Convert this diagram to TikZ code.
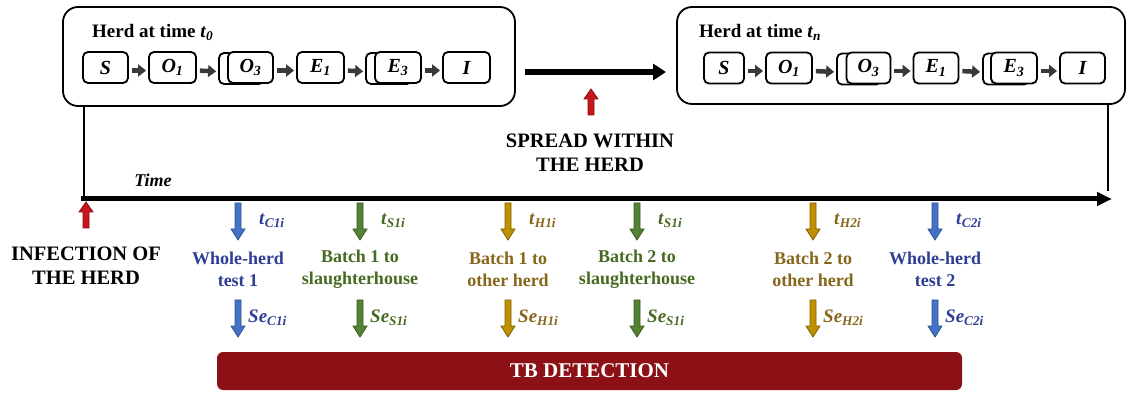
\documentclass[tikz,border=0pt]{standalone}
\usepackage{fontspec}
\setmainfont{Liberation Serif}
\usetikzlibrary{arrows.meta}
\definecolor{Ablue}{HTML}{4472C4}\definecolor{Dblue}{HTML}{2F5597}\definecolor{Tblue}{HTML}{2F3E94}
\definecolor{Agreen}{HTML}{548235}\definecolor{Dgreen}{HTML}{3A5A22}\definecolor{Tgreen}{HTML}{476A22}
\definecolor{Agold}{HTML}{BF9000}\definecolor{Dgold}{HTML}{806000}\definecolor{Tgold}{HTML}{86661A}
\definecolor{redA}{HTML}{C8161D}\definecolor{redD}{HTML}{8A0E12}
\definecolor{tbred}{HTML}{8C1116}
\definecolor{grayA}{HTML}{3A3A3A}
\newcommand{\tsub}[1]{\textbf{\textit{t}\textsubscript{\textit{#1}}}}
\newcommand{\sesub}[1]{\textbf{\textit{Se}\textsubscript{\textit{#1}}}}
\newcommand{\dnarrow}[4]{\filldraw[#1,line width=0.8pt] ({#2-3},#3) -- ({#2+3},#3) -- ({#2+3},{#4-11}) -- ({#2+7},{#4-11}) -- (#2,#4) -- ({#2-7},{#4-11}) -- ({#2-3},{#4-11}) -- cycle;}
\newcommand{\uparrowblk}[4]{\filldraw[#1,line width=0.8pt] ({#2-3},#3) -- ({#2+3},#3) -- ({#2+3},{#4+10}) -- ({#2+7},{#4+10}) -- (#2,#4) -- ({#2-7},{#4+10}) -- ({#2-3},{#4+10}) -- cycle;}
\tikzset{
  herdbox/.style={draw, line width=1.8pt, rounded corners=15pt},
  state/.style={draw, line width=1.8pt, rounded corners=5pt, fill=white, minimum height=31pt, inner sep=0pt, font=\fontsize{20}{22}\selectfont\bfseries\itshape},
  statearrow/.style={draw=grayA, line width=4.5pt, -{Triangle[width=12pt,length=8pt]}, shorten <=3pt, shorten >=2pt},
  evtext/.style={align=center, font=\fontsize{18}{22}\selectfont\bfseries},
  caps/.style={align=center, font=\fontsize{20.5}{24}\selectfont\bfseries},
  lab/.style={anchor=west, inner sep=0pt, font=\fontsize{19}{21}\selectfont},
}
\begin{document}
\begin{tikzpicture}[x=1pt,y=-1pt]
\useasboundingbox (0,0) rectangle (1127,395);
% herd boxes
\draw[herdbox] (63,7) rectangle (515,106);
\node[anchor=base west, inner sep=0pt, font=\fontsize{19}{21}\selectfont\bfseries] (h0) at (92,38) {Herd at time \textit{t}\textsubscript{\textit{0}}};
\draw[herdbox] (677,7) rectangle (1125,104);
\node[anchor=base west, inner sep=0pt, font=\fontsize{19}{21}\selectfont\bfseries] (hn) at (699,38) {Herd at time \textit{t}\textsubscript{\textit{n}}};
% left states
\node[state, minimum width=45pt] (LS) at (105.5,67.5) {S};
\node[state, minimum width=47pt] (LO1) at (172.5,67.5) {O\textsubscript{1}};
\node[state, minimum width=45pt] (LO3b) at (241.5,68.5) {};
\node[state, minimum width=45pt] (LO3) at (250.5,67.5) {O\textsubscript{3}};
\node[state, minimum width=47pt] (LE1) at (320.5,67.5) {E\textsubscript{1}};
\node[state, minimum width=46pt] (LE3b) at (389,68.5) {};
\node[state, minimum width=46pt] (LE3) at (398,67.5) {E\textsubscript{3}};
\node[state, minimum width=47pt] (LI) at (466.5,67.5) {I};
\draw[statearrow] ([yshift=-3pt]LS.east) -- ([yshift=-3pt]LO1.west);
\draw[statearrow] ([yshift=-3pt]LO1.east) -- ([yshift=-3pt]LO3b.west);
\draw[statearrow] ([yshift=-3pt]LO3.east) -- ([yshift=-3pt]LE1.west);
\draw[statearrow] ([yshift=-3pt]LE1.east) -- ([yshift=-3pt]LE3b.west);
\draw[statearrow] ([yshift=-3pt]LE3.east) -- ([yshift=-3pt]LI.west);
% right states
\node[state, minimum width=40pt] (RS) at (724,68) {S};
\node[state, minimum width=46pt] (RO1) at (789,68) {O\textsubscript{1}};
\node[state, minimum width=44pt] (RO3b) at (859,69) {};
\node[state, minimum width=44pt] (RO3) at (868.5,68) {O\textsubscript{3}};
\node[state, minimum width=45pt] (RE1) at (936,68) {E\textsubscript{1}};
\node[state, minimum width=46pt] (RE3b) at (1006,69) {};
\node[state, minimum width=46pt] (RE3) at (1014,68) {E\textsubscript{3}};
\node[state, minimum width=45pt] (RI) at (1082.5,68) {I};
\draw[statearrow] ([yshift=-3pt]RS.east) -- ([yshift=-3pt]RO1.west);
\draw[statearrow] ([yshift=-3pt]RO1.east) -- ([yshift=-3pt]RO3b.west);
\draw[statearrow] ([yshift=-3pt]RO3.east) -- ([yshift=-3pt]RE1.west);
\draw[statearrow] ([yshift=-3pt]RE1.east) -- ([yshift=-3pt]RE3b.west);
\draw[statearrow] ([yshift=-3pt]RE3.east) -- ([yshift=-3pt]RI.west);
% spread arrow
\coordinate (sp1) at (525,72);
\coordinate (sp2) at (666,72);
\draw[line width=6pt, -{Triangle[width=16pt,length=13pt]}] (sp1) -- (sp2);
\uparrowblk{fill=redA, draw=redD}{591}{115}{89}
\node[caps] (spread) at (590,153) {SPREAD WITHIN\\THE HERD};
% timeline
\coordinate (v1a) at (84,106); \coordinate (v1b) at (84,197);
\coordinate (v2a) at (1108,104); \coordinate (v2b) at (1108,191);
\draw[line width=2.5pt] (v1a) -- (v1b);
\draw[line width=2.5pt] (v2a) -- (v2b);
\coordinate (tl1) at (81,199); \coordinate (tl2) at (1112,199);
\draw[line width=5pt, -{Triangle[width=13pt,length=15pt]}] (tl1) -- (tl2);
\node[font=\fontsize{18}{20}\selectfont\bfseries\itshape] (time) at (153,180) {Time};
\uparrowblk{fill=redA, draw=redD}{86}{228}{202}
\node[caps] (inf) at (86,266) {INFECTION OF\\THE HERD};
% events
\foreach \xx/\col/\txt/\ts [count=\i] in {
  238/blue/{Whole-herd\\test 1}/C1i,
  360/green/{Batch 1 to\\slaughterhouse}/S1i,
  508/gold/{Batch 1 to\\other herd}/H1i,
  637/green/{Batch 2 to\\slaughterhouse}/S1i,
  813/gold/{Batch 2 to\\other herd}/H2i,
  935/blue/{Whole-herd\\test 2}/C2i}{
  \dnarrow{fill=A\col, draw=D\col}{\xx}{203}{240}
  \dnarrow{fill=A\col, draw=D\col}{\xx}{300}{337}
  \node[evtext, text=T\col] (ev\i) at (\xx,269) {\txt};
  \node[lab, text=T\col] (t\i) at ({\xx+21},221) {\tsub{\ts}};
  \node[lab, text=T\col] (se\i) at ({\xx+10},318) {\sesub{\ts}};
}
% TB detection
\node[fill=tbred, rounded corners=6pt, minimum width=745pt, minimum height=38pt, inner sep=0pt, text=white, font=\fontsize{21}{24}\selectfont\bfseries] (tb) at (589.5,371) {TB DETECTION};
\end{tikzpicture}
\end{document}
